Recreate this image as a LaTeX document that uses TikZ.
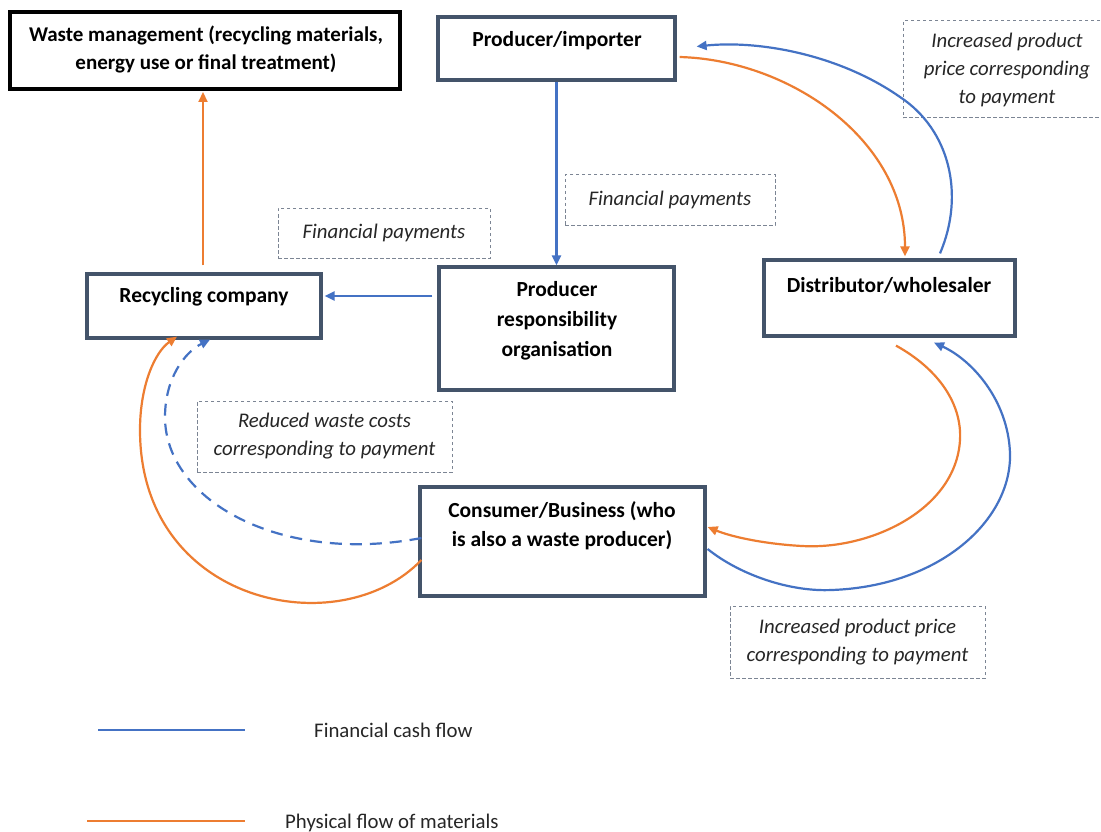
\documentclass[tikz,border=0pt]{standalone}
\usepackage{fontspec}
\setmainfont{Carlito}
\usetikzlibrary{arrows.meta,calc}
\definecolor{fblue}{HTML}{4472C4}
\definecolor{forange}{HTML}{ED7D31}
\definecolor{slate}{HTML}{44546A}
\definecolor{lgray}{HTML}{7C8594}
\definecolor{txt}{HTML}{262626}
\begin{document}
\begin{tikzpicture}[x=1pt,y=-1pt,
  box/.style={draw=slate,line width=3.2pt,fill=white,inner sep=0pt},
  ttl/.style={font=\bfseries\fontsize{21.5}{28}\selectfont,align=center,text=black,inner sep=0pt},
  lab/.style={draw=lgray,dash pattern=on 3.5pt off 2.5pt,line width=1pt,inner sep=0pt,
     font=\itshape\fontsize{20.8}{28}\selectfont,align=center,text=txt},
  fa/.style={draw=fblue,line width=2.2pt,-{Triangle[length=10pt,width=9pt]}},
  oa/.style={draw=forange,line width=2.2pt,-{Triangle[length=10pt,width=9pt]}},
  leg/.style={font=\fontsize{20.8}{28}\selectfont,text=txt,inner sep=0pt,anchor=west}]
\fill[white] (0,0) rectangle (1101,832);
\useasboundingbox (0,0) rectangle (1101,832);

% boxes
\node[box,draw=black,line width=4pt,minimum width=390pt,minimum height=77pt] (waste) at (205,50.5) {};
\node[ttl,font=\bfseries\fontsize{21}{28}\selectfont] (wastet) at (206,49) {Waste management (recycling materials,\\energy use or final treatment)};
\node[box,minimum width=237pt,minimum height=63pt] (pi) at (556.5,48.5) {};
\node[ttl] (pit) at (557,41) {Producer/importer};
\node[box,minimum width=251pt,minimum height=76pt] (dist) at (889.5,298) {};
\node[ttl] (distt) at (889,285) {Distributor/wholesaler};
\node[box,minimum width=234pt,minimum height=64pt] (rec) at (204,306) {};
\node[ttl] (rect) at (204,297) {Recycling company};
\node[box,minimum width=235pt,minimum height=123pt] (pro) at (556.5,328.5) {};
\node[ttl,font=\bfseries\fontsize{21.5}{30}\selectfont] (prot) at (557,321) {Producer\\responsibility\\organisation};
\node[box,minimum width=285pt,minimum height=109pt] (cons) at (562.5,541.5) {};
\node[ttl,font=\bfseries\fontsize{21.5}{29}\selectfont] (const) at (562,525.5) {Consumer/Business (who\\is also a waste producer)};

% dashed labels
\node[lab,minimum width=200pt,minimum height=97pt] (l1) at (1003,69.5) {};
\node[font=\itshape\fontsize{20.8}{28}\selectfont,align=center,text=txt,inner sep=0pt] (l1t) at (1007,69.5) {Increased product\\price corresponding\\to payment};
\node[lab,minimum width=210pt,minimum height=50pt] (l2) at (670,200) {Financial payments};
\node[lab,minimum width=212pt,minimum height=50pt] (l3) at (384,233) {Financial payments};
\node[lab,minimum width=255pt,minimum height=71pt] (l4) at (324.5,436.5) {Reduced waste costs\\corresponding to payment};
\node[lab,minimum width=255pt,minimum height=72pt] (l5) at (857.5,642) {Increased product price\\corresponding to payment};

% straight connectors
\draw[oa] ($(rec.north)+(-1,-7)$) -- ($(waste.south)+(-2,1)$);
\draw[fa] (pi.south) -- (pro.north);
\draw[fa] ($(pro.west)+(-5,-32.5)$) -- ($(rec.east)+(2,-10)$);

% upper right curves
\draw[fa] ($(dist.north)+(50.5,-5)$) .. controls (965,195) and (950,130) .. (900,97)
   .. controls (840,55) and (760,40) .. ($(pi.east)+(20,-2)$);
\draw[oa] ($(pi.east)+(3,8.5)$) .. controls (790,60) and (905,140) .. ($(dist.north)+(15.5,-2)$);

% lower right curves
\draw[oa] ($(dist.south)+(6.5,8)$) .. controls (940,370) and (962,405) .. (960,440)
   .. controls (956,510) and (870,550) .. (802,546)
   .. controls (765,544) and (732,537) .. ($(cons.east)+(1,-14.5)$);
\draw[fa] ($(cons.east)+(1,7.5)$) .. controls (740,575) and (790,592) .. (832,590)
   .. controls (940,586) and (1012,520) .. (1010,453)
   .. controls (1008,400) and (972,360) .. ($(dist.south)+(44.5,5)$);

% lower left curves
\draw[fa,dash pattern=on 12pt off 8pt] ($(cons.west)+(3,-3.5)$) .. controls (280,565) and (165,500) .. (165,417)
   .. controls (165,378) and (185,352) .. ($(rec.south)+(6,0)$);
\draw[oa] ($(cons.west)+(3,18.5)$) .. controls (340,645) and (140,605) .. (140,430)
   .. controls (140,385) and (155,352) .. ($(rec.south)+(-27,-3)$);

% legend
\coordinate (b1) at (98,730);
\coordinate (b2) at (245,730);
\coordinate (o1) at (87,821);
\coordinate (o2) at (245,821);
\draw[fblue,line width=2.5pt] (b1) -- (b2);
\draw[forange,line width=2.5pt] (o1) -- (o2);
\node[leg] (lt1) at (314,730) {Financial cash flow};
\node[leg] (lt2) at (285,823) {Physical flow of materials};
\end{tikzpicture}
\end{document}
